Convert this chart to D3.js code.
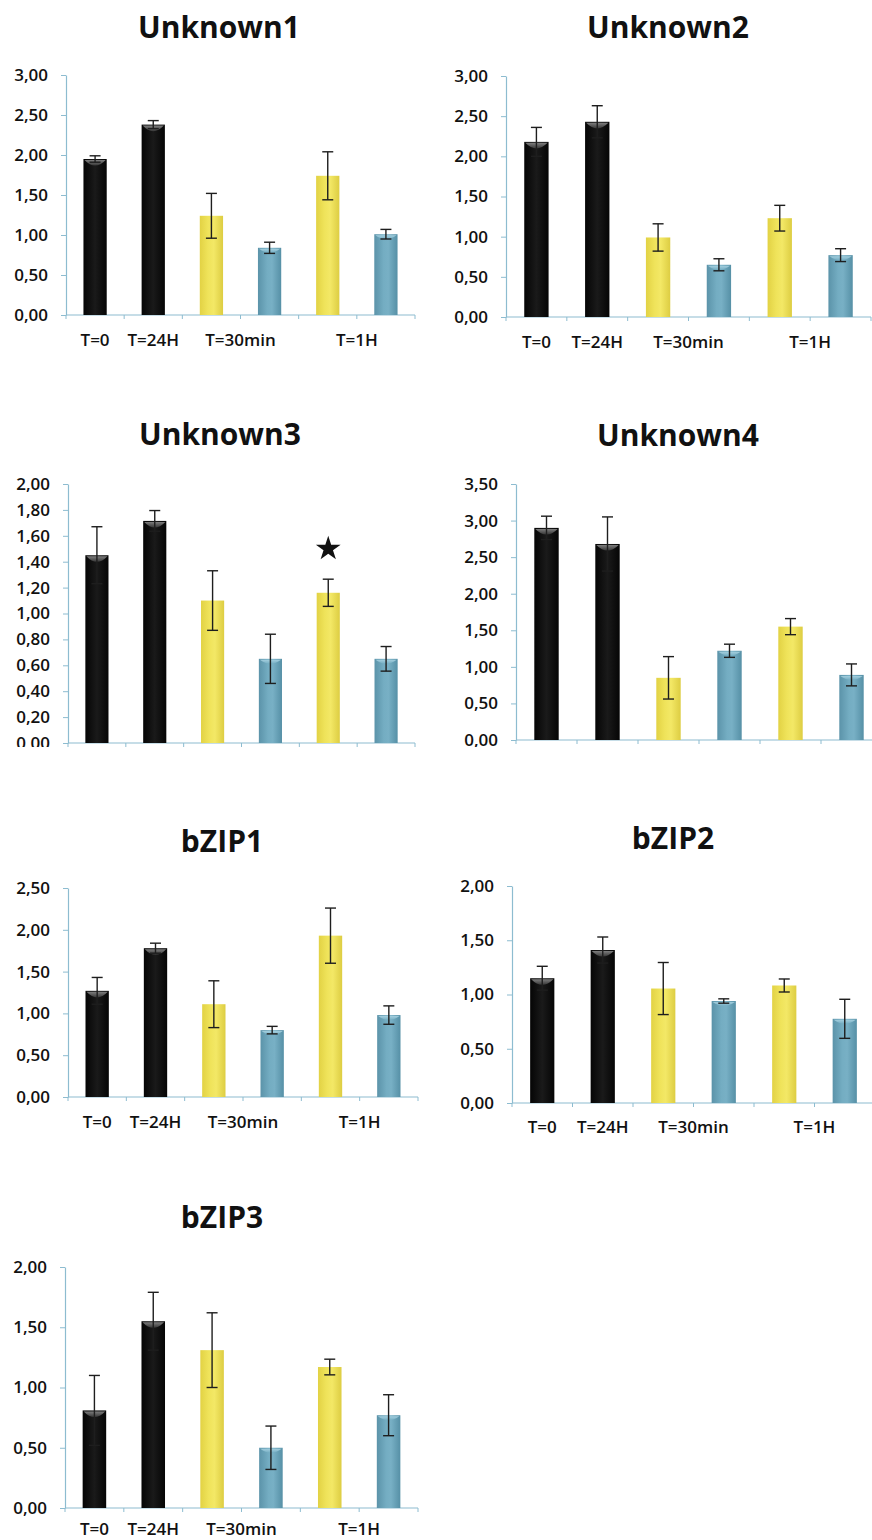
<!DOCTYPE html>
<html>
<head>
<meta charset="utf-8">
<script src="https://cdn.jsdelivr.net/npm/d3@7"></script>
<style>
  html, body { margin: 0; padding: 0; background: #fff; }
  svg { display: block; }
  text { font-family: "Open Sans", "Lato", sans-serif; fill: #111; }
</style>
</head>
<body>
<svg id="chart" width="872" height="1540"></svg>
<script>
// ---------------- DATA ----------------
const slots = ["T=0", "T=24H", "T=30min_a", "T=30min_b", "T=1H_a", "T=1H_b"];
const slotColors = ["black", "black", "yellow", "blue", "yellow", "blue"];
const groupLabels = ["T=0", "T=24H", "T=30min", "T=1H"];
const groupSlots = [[0], [1], [2, 3], [4, 5]];

const titles = ["Unknown1", "Unknown2", "Unknown3", "Unknown4", "bZIP1", "bZIP2", "bZIP3"];

const unknown1Means  = [1.95, 2.38, 1.24, 0.84, 1.74, 1.01];
const unknown1Errors = [0.04, 0.05, 0.28, 0.07, 0.30, 0.06];

const unknown2Means  = [2.18, 2.43, 0.99, 0.65, 1.23, 0.77];
const unknown2Errors = [0.18, 0.20, 0.17, 0.075, 0.16, 0.08];

const unknown3Means  = [1.45, 1.715, 1.10, 0.65, 1.16, 0.65];
const unknown3Errors = [0.22, 0.08, 0.23, 0.19, 0.105, 0.095];

const unknown4Means  = [2.90, 2.68, 0.85, 1.22, 1.55, 0.89];
const unknown4Errors = [0.16, 0.37, 0.29, 0.09, 0.11, 0.15];

const bzip1Means  = [1.27, 1.78, 1.11, 0.80, 1.93, 0.98];
const bzip1Errors = [0.16, 0.06, 0.28, 0.045, 0.33, 0.11];

const bzip2Means  = [1.15, 1.41, 1.055, 0.94, 1.083, 0.776];
const bzip2Errors = [0.11, 0.12, 0.24, 0.02, 0.06, 0.18];

const bzip3Means  = [0.81, 1.55, 1.31, 0.50, 1.17, 0.77];
const bzip3Errors = [0.29, 0.24, 0.31, 0.18, 0.065, 0.17];

const yMaxValues  = [3.0, 3.0, 2.0, 3.5, 2.5, 2.0, 2.0];
const yStepValues = [0.5, 0.5, 0.2, 0.5, 0.5, 0.5, 0.5];

// significance marker: [panel index, slot index, value where the star sits]
const starMarks = [[2, 4, 1.50]];

// ---------------- LAYOUT (pixels) ----------------
const layout = [
  { x0: 66,  x1: 415, yTop: 75,  yBase: 315,  tx: 219, ty: 38,   labels: true,  ly: 31, clipY: null },
  { x0: 506, x1: 871, yTop: 76,  yBase: 317,  tx: 668, ty: 38,   labels: true,  ly: 31, clipY: null },
  { x0: 68,  x1: 415, yTop: 484, yBase: 743,  tx: 220, ty: 445,  labels: false, ly: 31, clipY: 747 },
  { x0: 516, x1: 882, yTop: 484, yBase: 740,  tx: 678, ty: 446,  labels: false, ly: 31, clipY: 747 },
  { x0: 68,  x1: 418, yTop: 888, yBase: 1097, tx: 222, ty: 852,  labels: true,  ly: 31, clipY: null },
  { x0: 512, x1: 875, yTop: 886, yBase: 1103, tx: 673, ty: 849,  labels: true,  ly: 30, clipY: null },
  { x0: 65,  x1: 418, yTop: 1267, yBase: 1508, tx: 222, ty: 1228, labels: true, ly: 27, clipY: null }
];

const meansList  = [unknown1Means, unknown2Means, unknown3Means, unknown4Means, bzip1Means, bzip2Means, bzip3Means];
const errorsList = [unknown1Errors, unknown2Errors, unknown3Errors, unknown4Errors, bzip1Errors, bzip2Errors, bzip3Errors];

// ---------------- DRAW ----------------
const svg = d3.select("#chart");
const defs = svg.append("defs");

function hGrad(id, stops) {
  const g = defs.append("linearGradient").attr("id", id)
    .attr("x1", "0%").attr("x2", "100%").attr("y1", "0%").attr("y2", "0%");
  stops.forEach(s => g.append("stop").attr("offset", s[0]).attr("stop-color", s[1]));
}
hGrad("g-black",  [["0%", "#050505"], ["50%", "#1a1a1a"], ["100%", "#050505"]]);
hGrad("g-yellow", [["0%", "#e2d244"], ["35%", "#efe35a"], ["60%", "#f3e866"], ["100%", "#ddcd42"]]);
hGrad("g-blue",   [["0%", "#5b93a9"], ["40%", "#74adc2"], ["60%", "#78b0c5"], ["100%", "#5690a6"]]);
const capGrad = defs.append("linearGradient").attr("id", "g-cap")
  .attr("x1", "0%").attr("x2", "0%").attr("y1", "0%").attr("y2", "100%");
capGrad.append("stop").attr("offset", "0%").attr("stop-color", "#8a8a8a");
capGrad.append("stop").attr("offset", "100%").attr("stop-color", "#3a3a3a");
const capBlue = defs.append("linearGradient").attr("id", "g-capblue")
  .attr("x1", "0%").attr("x2", "0%").attr("y1", "0%").attr("y2", "100%");
capBlue.append("stop").attr("offset", "0%").attr("stop-color", "#a9d3e2");
capBlue.append("stop").attr("offset", "100%").attr("stop-color", "#74adc2");

const fillFor = { black: "url(#g-black)", yellow: "url(#g-yellow)", blue: "url(#g-blue)" };
const axisColor = "#8dbcd0";
const commaFmt = d3.formatLocale({ decimal: ",", thousands: ".", grouping: [3], currency: ["", ""] }).format(".2f");

titles.forEach((title, i) => {
  const L = layout[i];
  const means = meansList[i];
  const errs = errorsList[i];

  let g = svg.append("g");
  if (L.clipY !== null) {
    const cid = "clip" + i;
    defs.append("clipPath").attr("id", cid)
      .append("rect").attr("x", 0).attr("y", 0).attr("width", 872).attr("height", L.clipY);
    g.attr("clip-path", `url(#${cid})`);
  }

  const x = d3.scaleBand().domain(slots).range([L.x0, L.x1]).paddingInner(0.6).paddingOuter(0.3);
  const y = d3.scaleLinear().domain([0, yMaxValues[i]]).range([L.yBase, L.yTop]);
  const step = x.step();

  // title
  g.append("text").attr("x", L.tx).attr("y", L.ty)
    .attr("text-anchor", "middle")
    .style("font-size", "30px").style("font-weight", "700")
    .text(title);

  // y axis
  const ticks = d3.range(0, yMaxValues[i] + 1e-9, yStepValues[i]);
  const yAxis = d3.axisLeft(y).tickValues(ticks).tickFormat(commaFmt)
    .tickSizeInner(5).tickSizeOuter(0).tickPadding(13);
  const ya = g.append("g").attr("transform", `translate(${L.x0},0)`).call(yAxis);
  ya.select(".domain").attr("stroke", axisColor).attr("stroke-width", 1.2);
  ya.selectAll(".tick line").attr("stroke", axisColor);
  ya.selectAll(".tick text").style("font-size", "17px").attr("fill", "#161616")
    .style("font-weight", "600")
    .style("font-family", "'Open Sans', sans-serif");

  // x axis line + slot boundary ticks
  const xa = g.append("g");
  xa.append("line").attr("x1", L.x0).attr("x2", L.x1)
    .attr("y1", L.yBase).attr("y2", L.yBase)
    .attr("stroke", axisColor).attr("stroke-width", 1.2);
  const bounds = slots.map(s => x(s) - (step - x.bandwidth()) / 2).concat([L.x0 + step * slots.length]);
  xa.selectAll("line.xt").data(bounds).join("line").attr("class", "xt")
    .attr("x1", d => d).attr("x2", d => d)
    .attr("y1", L.yBase).attr("y2", L.yBase + 4)
    .attr("stroke", axisColor).attr("stroke-width", 1);

  // bars
  const bw = x.bandwidth();
  const bars = g.append("g");
  bars.selectAll("rect.bar").data(means).join("rect").attr("class", "bar")
    .attr("x", (d, j) => x(slots[j]))
    .attr("y", d => y(d))
    .attr("width", bw)
    .attr("height", d => L.yBase - y(d))
    .attr("fill", (d, j) => fillFor[slotColors[j]]);

  // bevel caps on black and blue bars
  bars.selectAll("path.cap").data(means).join("path").attr("class", "cap")
    .attr("d", (d, j) => {
      const xl = x(slots[j]) + 1, xr = x(slots[j]) + bw - 1, yt = y(d) + 1;
      const depth = slotColors[j] === "black" ? 7 : 5;
      return `M${xl},${yt} L${xr},${yt} Q${(xl + xr) / 2},${yt + depth * 1.6} ${xl},${yt} Z`;
    })
    .attr("fill", (d, j) => slotColors[j] === "black" ? "url(#g-cap)" : (slotColors[j] === "blue" ? "url(#g-capblue)" : "none"))
    .attr("opacity", 0.9);

  // error bars
  const eb = g.append("g").attr("stroke", "#1e1e1e").attr("stroke-width", 1.4);
  const capW = 5.5;
  means.forEach((m, j) => {
    const cx = x(slots[j]) + bw / 2;
    const e = errs[j];
    eb.append("line").attr("x1", cx).attr("x2", cx).attr("y1", y(m + e)).attr("y2", y(m - e));
    eb.append("line").attr("x1", cx - capW).attr("x2", cx + capW).attr("y1", y(m + e)).attr("y2", y(m + e));
    eb.append("line").attr("x1", cx - capW).attr("x2", cx + capW).attr("y1", y(m - e)).attr("y2", y(m - e));
  });

  // x group labels
  if (L.labels) {
    g.selectAll("text.xl").data(groupLabels).join("text").attr("class", "xl")
      .attr("x", (d, k) => d3.mean(groupSlots[k], s => x(slots[s]) + bw / 2))
      .attr("y", L.yBase + L.ly)
      .attr("text-anchor", "middle")
      .style("font-size", "17px").style("font-weight", "600").attr("fill", "#161616")
      .text(d => d);
  }

  // significance stars
  starMarks.filter(s => s[0] === i).forEach(s => {
    g.append("path")
      .attr("d", d3.symbol(d3.symbolStar, 190)())
      .attr("transform", `translate(${x(slots[s[1]]) + bw / 2},${y(s[2])})`)
      .attr("fill", "#111");
  });
});
</script>
</body>
</html>
